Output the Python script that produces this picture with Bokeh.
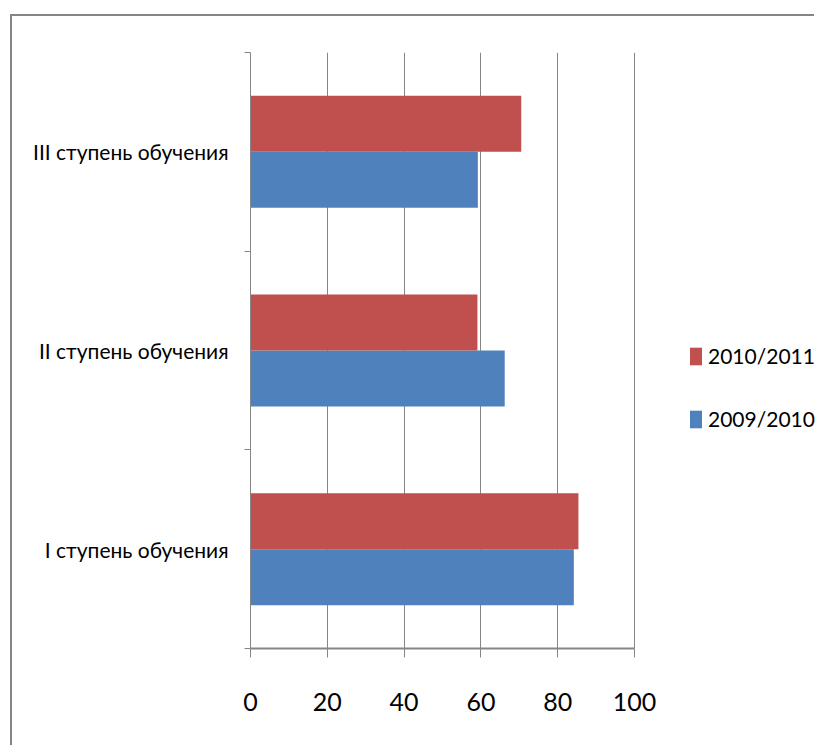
from bokeh.plotting import figure
from bokeh.models import (ColumnDataSource, Range1d, FixedTicker, Legend, LegendItem)
from bokeh.transform import dodge
from bokeh.embed import file_html
from bokeh.resources import INLINE

categories = ["I ступень обучения", "II ступень обучения", "III ступень обучения"]
series_names = ["2009/2010", "2010/2011"]
values_2009_2010 = [84.2, 66.2, 59.2]
values_2010_2011 = [85.4, 59.1, 70.5]
x_ticks = [0, 20, 40, 60, 80, 100]

BLUE = "#4F81BD"
RED = "#C0504D"
GRAY = "#868686"
FONT = "Lato"

W, H = 804, 731
LEFT, TOP, BOTTOM = 238, 36, 99
AXIS_PX = 384  # pixels from 0 to 100
frame_w = W - LEFT
x_end = x_ticks[-1] * frame_w / AXIS_PX

ypos = [i + 0.5 for i in range(len(categories))]
source = ColumnDataSource(data=dict(
    y=ypos,
    cat=categories,
    v0910=values_2009_2010,
    v1011=values_2010_2011,
))

p = figure(
    width=W, height=H,
    x_range=Range1d(0, x_end), y_range=Range1d(0, len(categories)),
    output_backend="svg", toolbar_location=None,
    min_border_left=LEFT, min_border_right=0,
    min_border_top=TOP, min_border_bottom=BOTTOM,
)
p.styles = {
    "margin-left": "10px",
    "margin-top": "14px",
    "border-left": f"2px solid {GRAY}",
    "border-top": f"2px solid {GRAY}",
}
p.outline_line_color = None
p.background_fill_color = "white"
p.border_fill_color = "white"

bar_h = 0.282
r_blue = p.hbar(y=dodge("y", -bar_h / 2, range=p.y_range), right="v0910", left=0,
                height=bar_h, source=source, fill_color=BLUE, line_color=None)
r_red = p.hbar(y=dodge("y", bar_h / 2, range=p.y_range), right="v1011", left=0,
               height=bar_h, source=source, fill_color=RED, line_color=None)

# x axis
xa = p.xaxis[0]
xa.ticker = FixedTicker(ticks=x_ticks)
xa.bounds = (x_ticks[0], x_ticks[-1])
xa.axis_line_color = GRAY
xa.axis_line_width = 2
xa.major_tick_line_color = GRAY
xa.major_tick_in = 0
xa.major_tick_out = 9
xa.minor_tick_line_color = None
xa.major_label_text_font = FONT
xa.major_label_text_font_size = "25px"
xa.major_label_text_color = "black"
xa.major_label_standoff = 35

# y axis
ya = p.yaxis[0]
ya.ticker = FixedTicker(ticks=ypos, minor_ticks=list(range(len(categories) + 1)))
ya.major_label_overrides = {y: c for y, c in zip(ypos, categories)}
ya.axis_line_color = GRAY
ya.axis_line_width = 1
ya.major_tick_line_color = None
ya.major_tick_in = 0
ya.major_tick_out = 0
ya.minor_tick_line_color = GRAY
ya.minor_tick_in = 0
ya.minor_tick_out = 6
ya.major_label_text_font = FONT
ya.major_label_text_font_size = "21px"
ya.major_label_text_color = "black"
ya.major_label_standoff = 16

p.xgrid.ticker = FixedTicker(ticks=x_ticks)
p.xgrid.grid_line_color = GRAY
p.xgrid.grid_line_width = 1
p.ygrid.grid_line_color = None

legend = Legend(
    items=[LegendItem(label=series_names[1], renderers=[r_red]),
           LegendItem(label=series_names[0], renderers=[r_blue])],
    location=(438, 217),
    glyph_width=15, glyph_height=22,
    label_standoff=5, label_height=21,
    spacing=38, padding=0, margin=0,
    border_line_color=None, background_fill_alpha=0,
    label_text_font=FONT, label_text_font_size="21px", label_text_color="black",
)
p.add_layout(legend, "center")

open("out.html", "w").write(file_html(p, INLINE))
